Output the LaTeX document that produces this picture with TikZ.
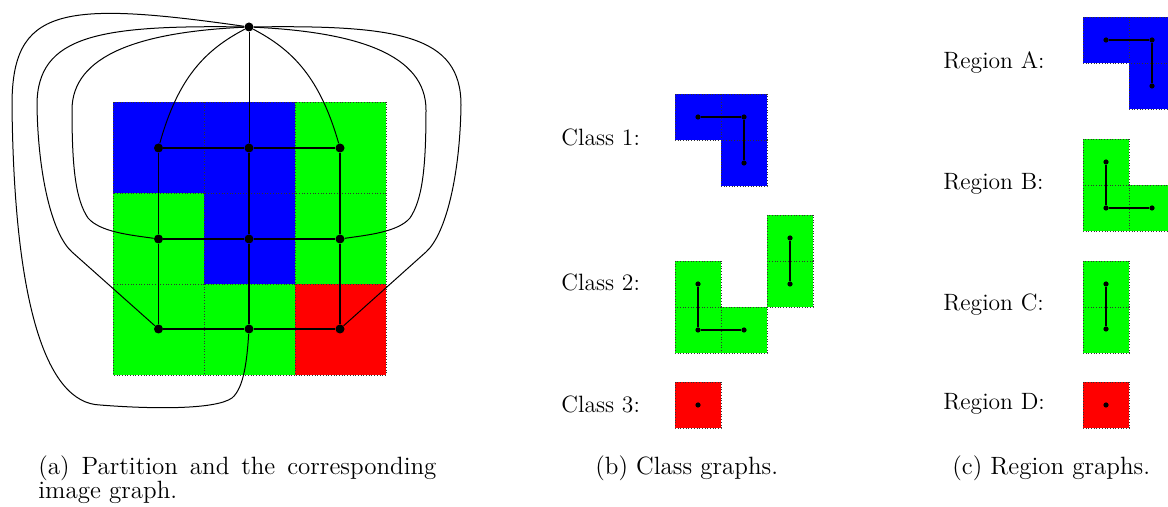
\documentclass[tikz,border=0pt]{standalone}
\usepackage{fontspec}
\begin{document}
\begin{tikzpicture}[x=0.5pt,y=-0.5pt,
  cell/.style={draw=black!80, line width=0.35pt, dash pattern=on 0.45pt off 0.9pt},
  gnode/.style={circle, fill=black, inner sep=0pt, minimum size=4.5pt},
  snode/.style={circle, fill=black, inner sep=0pt, minimum size=2.6pt},
  gedge/.style={line width=0.8pt},
  cedge/.style={line width=0.5pt},
  sedge/.style={line width=0.7pt},
  lbl/.style={anchor=west, inner sep=0pt, font=\fontsize{11.8}{14}\selectfont},
  captxt/.style={anchor=base west, inner sep=0pt, font=\fontsize{12.5}{12.5}\selectfont}]
\definecolor{cblue}{RGB}{0,0,255}
\definecolor{cgreen}{RGB}{0,255,0}
\definecolor{cred}{RGB}{255,0,0}
\newcommand\cellsq[4]{\filldraw[cell,fill=#1] (#2,#3) rectangle ++(#4,#4);}
\useasboundingbox (0,0) rectangle (1168,507);

% ---------- (a) partition of the image ----------
\cellsq{cblue}{113}{102}{91}
\cellsq{cblue}{204}{102}{91}
\cellsq{cgreen}{295}{102}{91}
\cellsq{cgreen}{113}{193}{91}
\cellsq{cblue}{204}{193}{91}
\cellsq{cgreen}{295}{193}{91}
\cellsq{cgreen}{113}{284}{91}
\cellsq{cgreen}{204}{284}{91}
\cellsq{cred}{295}{284}{91}

\node[gnode] (T) at (249,27) {};
\node[gnode] (n11) at (158.5,148) {};
\node[gnode] (n12) at (249,148) {};
\node[gnode] (n13) at (340,148) {};
\node[gnode] (n21) at (158.5,239) {};
\node[gnode] (n22) at (249,239) {};
\node[gnode] (n23) at (340,239) {};
\node[gnode] (n31) at (158.5,329) {};
\node[gnode] (n32) at (249,329) {};
\node[gnode] (n33) at (340,329) {};

% pixel adjacency
\draw[gedge] (n11) -- (n12) -- (n13);
\draw[gedge] (n21) -- (n22) -- (n23);
\draw[gedge] (n31) -- (n32) -- (n33);
\draw[gedge] (n11) -- (n21) -- (n31);
\draw[gedge] (n12) -- (n22) -- (n32);
\draw[gedge] (n13) -- (n23) -- (n33);

% links to the outside node
\draw[cedge] (T) -- (n12);
\draw[cedge] (T) .. controls (205,50) and (178,78) .. (n11);
\draw[cedge] (T) .. controls (293,50) and (320,78) .. (n13);
% middle row
\draw[cedge] (T) .. controls (140,32) and (72,55) .. (72,110)
  .. controls (72,170) and (76,200) .. (88,218)
  .. controls (100,232) and (130,235) .. (n21);
\draw[cedge] (T) .. controls (358,32) and (426,55) .. (426,110)
  .. controls (426,170) and (422,200) .. (410,218)
  .. controls (398,232) and (368,235) .. (n23);
% bottom corners
\draw[cedge] (T) .. controls (100,25) and (37,35) .. (37,105)
  .. controls (38,175) and (52,234) .. (72,252) -- (n31);
\draw[cedge] (T) .. controls (398,25) and (461,35) .. (461,105)
  .. controls (460,175) and (446,234) .. (426,252) -- (n33);
% bottom middle, round the left side
\draw[cedge] (T) .. controls (60,0) and (12,8) .. (12,105)
  .. controls (14,300) and (45,403) .. (100,405)
  .. controls (150,409) and (215,410) .. (232,398)
  .. controls (244,388) and (247,360) .. (n32);

\node[captxt] (capa1) at (38,475) {\makebox[199pt][s]{(a) Partition and the corresponding}};
\node[captxt] (capa2) at (38,499) {image graph.};

% ---------- (b) class graphs ----------
\node[lbl] (l1) at (561,137) {Class 1:};
\node[lbl] (l2) at (561,282) {Class 2:};
\node[lbl] (l3) at (561,404) {Class 3:};

\cellsq{cblue}{675}{94}{46}
\cellsq{cblue}{721}{94}{46}
\cellsq{cblue}{721}{140}{46}
\node[snode] (a1) at (698,117) {};
\node[snode] (a2) at (744,117) {};
\node[snode] (a3) at (744,163) {};
\draw[sedge] (a1) -- (a2) -- (a3);

\cellsq{cgreen}{675}{261}{46}
\cellsq{cgreen}{675}{307}{46}
\cellsq{cgreen}{721}{307}{46}
\cellsq{cgreen}{767}{215}{46}
\cellsq{cgreen}{767}{261}{46}
\node[snode] (b1) at (698,284) {};
\node[snode] (b2) at (698,330) {};
\node[snode] (b3) at (744,330) {};
\node[snode] (b4) at (790,238) {};
\node[snode] (b5) at (790,284) {};
\draw[sedge] (b1) -- (b2) -- (b3);
\draw[sedge] (b4) -- (b5);

\cellsq{cred}{675}{382}{46}
\node[snode] (c1) at (698,405) {};

\node[captxt] (capb) at (595,475) {(b) Class graphs.};

% ---------- (c) region graphs ----------
\node[lbl] (r1) at (943,62) {Region A:};
\node[lbl] (r2) at (943,184) {Region B:};
\node[lbl] (r3) at (943,305) {Region C:};
\node[lbl] (r4) at (943,404) {Region D:};

\cellsq{cblue}{1083}{17}{46}
\cellsq{cblue}{1129}{17}{46}
\cellsq{cblue}{1129}{63}{46}
\node[snode] (ra1) at (1106,40) {};
\node[snode] (ra2) at (1152,40) {};
\node[snode] (ra3) at (1152,86) {};
\draw[sedge] (ra1) -- (ra2) -- (ra3);

\cellsq{cgreen}{1083}{139}{46}
\cellsq{cgreen}{1083}{185}{46}
\cellsq{cgreen}{1129}{185}{46}
\node[snode] (rb1) at (1106,162) {};
\node[snode] (rb2) at (1106,208) {};
\node[snode] (rb3) at (1152,208) {};
\draw[sedge] (rb1) -- (rb2) -- (rb3);

\cellsq{cgreen}{1083}{261}{46}
\cellsq{cgreen}{1083}{307}{46}
\node[snode] (rc1) at (1106,284) {};
\node[snode] (rc2) at (1106,329) {};
\draw[sedge] (rc1) -- (rc2);

\cellsq{cred}{1083}{382}{46}
\node[snode] (rd1) at (1106,405) {};

\node[captxt] (capc) at (952,475) {(c) Region graphs.};
\end{tikzpicture}
\end{document}
